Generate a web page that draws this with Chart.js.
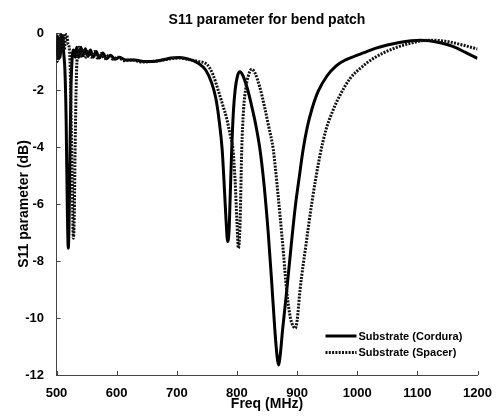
<!DOCTYPE html>
<html><head><meta charset="utf-8">
<script src="https://cdn.jsdelivr.net/npm/chart.js@4/dist/chart.umd.min.js"></script>
<style>html,body{margin:0;padding:0;background:#fff;}#wrap{width:500px;height:420px;}</style>
</head><body><div id="wrap"><canvas id="c" width="500" height="420"></canvas></div>
<script>
const chartTitle = 'S11 parameter for bend patch';
const xTitle = 'Freq (MHz)';
const yTitle = 'S11 parameter (dB)';
const seriesNames = ['Substrate (Cordura)', 'Substrate (Spacer)'];
const xTicks = [500, 600, 700, 800, 900, 1000, 1100, 1200];
const yTicks = [-12, -10, -8, -6, -4, -2, 0];

const freqCordura = [500,501.5,503,504.5,506,507.5,509,510.5,512,514,516,518,519.6,521,522.5,524,526,528.5,531,533.5,537,540.5,544,548,552,556.5,561,566,571,577,583,590,597,605,615,630,645,660,675,690,705,720,735,748,758,765,770,775.5,779,782,784.6,787,789,791.3,794,797,801,805,810,818,826,832,838.4,845,852,858,863,866.5,869,872,876,883,890,897,904,910,917,925,935,950,965,980,995,1010,1030,1050,1070,1090,1105,1120,1140,1160,1180,1200];
const s11Cordura = [-0.8,-0.1,-0.9,-0.2,-0.85,-0.05,-0.6,-0.1,-0.7,-1.3,-3.0,-6.2,-7.55,-6.5,-4.0,-2.0,-0.9,-0.6,-0.85,-0.5,-0.85,-0.5,-0.8,-0.55,-0.82,-0.6,-0.85,-0.65,-0.88,-0.7,-0.9,-0.78,-0.92,-0.85,-0.95,-0.95,-1.0,-1.0,-0.95,-0.88,-0.86,-0.92,-1.05,-1.3,-1.75,-2.3,-3.0,-4.1,-5.4,-6.6,-7.32,-6.9,-5.6,-4.1,-2.8,-2.0,-1.5,-1.36,-1.5,-2.0,-2.7,-3.3,-4.1,-5.3,-7.0,-8.8,-10.4,-11.3,-11.65,-11.3,-10.4,-9.0,-7.5,-6.1,-5.0,-4.1,-3.3,-2.65,-2.05,-1.5,-1.15,-0.95,-0.82,-0.7,-0.54,-0.42,-0.33,-0.27,-0.25,-0.27,-0.35,-0.48,-0.68,-0.89];

const freqSpacer = [500,501.5,503,504.5,506,507.5,509,511,513,515,517,519,521,522.5,524,526,528,529.5,531,533,535,537.5,541,545,549,553.5,558,563,568,574,580,587,594,602,612,627,642,657,672,690,705,720,735,750,760,768,776,783,789,793.5,797,800,802.4,805,808,811,815,819,824.5,830,838,846,853,860.5,868,876,883,889,894,897,900,905,915,925,938,948,960,971,988,1005,1030,1060,1090,1120,1150,1175,1200];
const s11Spacer = [-0.4,-1.0,-0.2,-0.9,-0.1,-0.7,-0.3,-0.05,-0.6,-0.15,-0.05,-0.35,-0.5,-1.0,-2.5,-5.0,-7.2,-6.5,-4.0,-1.6,-0.7,-0.5,-0.82,-0.55,-0.85,-0.6,-0.85,-0.65,-0.88,-0.72,-0.9,-0.78,-0.92,-0.85,-0.97,-0.95,-1.02,-1.0,-0.97,-0.9,-0.88,-0.93,-1.0,-1.1,-1.45,-1.95,-2.5,-3.0,-3.6,-4.1,-5.2,-6.6,-7.55,-6.8,-4.1,-2.7,-1.9,-1.5,-1.27,-1.4,-1.9,-2.6,-3.3,-4.1,-5.6,-7.4,-9.1,-10.0,-10.3,-10.36,-10.1,-9.0,-7.4,-5.9,-4.3,-3.4,-2.7,-2.2,-1.6,-1.24,-0.85,-0.55,-0.35,-0.25,-0.3,-0.42,-0.56];

const FONT = '"Liberation Sans", Arial, Helvetica, sans-serif';
const AXIS_COLOR = '#444';

function pts(xs, ys) { return xs.map((x, i) => ({x: x, y: ys[i]})); }

const inwardTicks = {
  id: 'inwardTicks',
  afterDraw(chart) {
    const ctx = chart.ctx, a = chart.chartArea;
    const xs = chart.scales.x, ys = chart.scales.y;
    ctx.save();
    ctx.strokeStyle = AXIS_COLOR;
    ctx.lineWidth = 1;
    ctx.beginPath();
    xTicks.forEach(v => {
      const p = Math.round(xs.getPixelForValue(v)) + 0.5;
      ctx.moveTo(p, a.bottom); ctx.lineTo(p, a.bottom - 4);
    });
    yTicks.forEach(v => {
      const p = Math.round(ys.getPixelForValue(v)) + 0.5;
      ctx.moveTo(a.left, p); ctx.lineTo(a.left + 4, p);
    });
    ctx.stroke();
    ctx.restore();
  }
};

const insetLegend = {
  id: 'insetLegend',
  afterDraw(chart) {
    const ctx = chart.ctx, a = chart.chartArea;
    const x0 = a.right - 152, y0 = a.bottom - 39;
    ctx.save();
    chart.data.datasets.forEach((ds, i) => {
      const y = y0 + i * 16.5;
      ctx.strokeStyle = ds.borderColor;
      ctx.lineWidth = ds.borderWidth;
      ctx.setLineDash(ds.borderDash || []);
      ctx.beginPath();
      ctx.moveTo(x0, y); ctx.lineTo(x0 + 31, y);
      ctx.stroke();
      ctx.setLineDash([]);
      ctx.fillStyle = '#000';
      ctx.font = 'bold 11px ' + FONT;
      ctx.textBaseline = 'middle';
      ctx.textAlign = 'left';
      ctx.fillText(ds.label, x0 + 33, y + 0.5);
    });
    ctx.restore();
  }
};

new Chart(document.getElementById('c'), {
  type: 'line',
  data: {
    datasets: [
      {label: seriesNames[0], data: pts(freqCordura, s11Cordura), borderColor: '#000', borderWidth: 3,
       pointRadius: 0, cubicInterpolationMode: 'monotone', fill: false, order: 1},
      {label: seriesNames[1], data: pts(freqSpacer, s11Spacer), borderColor: '#111', borderWidth: 3,
       borderDash: [2, 1.3], borderCapStyle: 'butt', pointRadius: 0, cubicInterpolationMode: 'monotone', fill: false, order: 0}
    ]
  },
  options: {
    responsive: false,
    animation: false,
    devicePixelRatio: 1,
    layout: {padding: {left: 0, right: 22.5, top: 0, bottom: 0}},
    plugins: {
      legend: {display: false},
      tooltip: {enabled: false},
      title: {display: true, text: chartTitle, fullSize: false, color: '#000',
        font: {family: FONT, size: 14, weight: 'bold'}, padding: {top: 11.5, bottom: 4.7}}
    },
    scales: {
      x: {
        type: 'linear', min: 500, max: 1200,
        afterBuildTicks: s => { s.ticks = xTicks.map(v => ({value: v})); },
        afterFit: s => { s.height = 45; },
        grid: {display: false},
        border: {display: true, color: AXIS_COLOR, width: 1},
        ticks: {color: '#000', font: {family: FONT, size: 13, weight: 'bold'}, padding: 3, maxRotation: 0, autoSkip: false,
          callback: v => String(v)},
        title: {display: true, text: xTitle, color: '#000', font: {family: FONT, size: 14, weight: 'bold'}, padding: {top: 0, bottom: 7}}
      },
      y: {
        type: 'linear', min: -12, max: 0,
        afterBuildTicks: s => { s.ticks = yTicks.map(v => ({value: v})); },
        afterFit: s => { s.width = 56.5; },
        grid: {display: false},
        border: {display: true, color: AXIS_COLOR, width: 1},
        ticks: {color: '#000', font: {family: FONT, size: 13, weight: 'bold'}, padding: 4.5, autoSkip: false,
          callback: v => String(v)},
        title: {display: true, text: yTitle, color: '#000', font: {family: FONT, size: 14, weight: 'bold'}, padding: {top: 15.6, bottom: 0}}
      }
    }
  },
  plugins: [inwardTicks, insetLegend]
});
</script>
</body></html>
